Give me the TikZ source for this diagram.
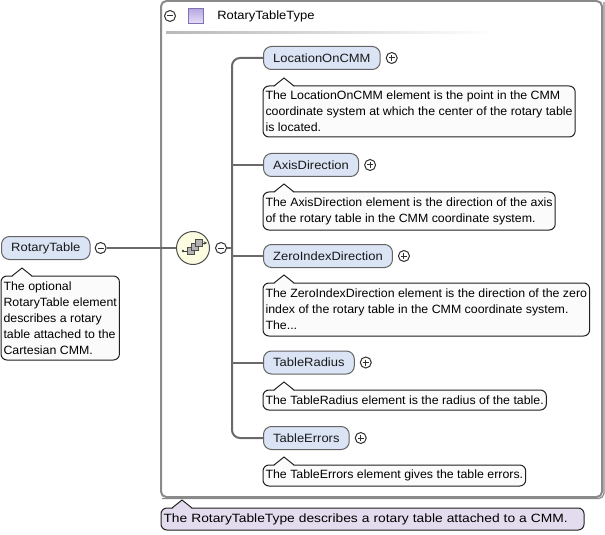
\documentclass[tikz,border=0pt]{standalone}
\usepackage{fontspec}
\setmainfont{Liberation Sans}
\newfontfamily\docfont[FakeStretch=1.03]{Liberation Sans}
\newfontfamily\elfont[FakeStretch=1.08]{Liberation Sans}
\newfontfamily\typedocfont[FakeStretch=1.15]{Liberation Sans}
\usetikzlibrary{calc,arrows.meta}
\definecolor{elfill}{HTML}{DAE4F5}
\definecolor{elborder}{HTML}{646464}
\definecolor{docfill}{HTML}{FBFBFB}
\definecolor{docborder}{HTML}{202020}
\definecolor{lavfill}{HTML}{E3DCEE}
\definecolor{conncol}{HTML}{6A6A6A}
\definecolor{contcol}{HTML}{8A8A8A}
\definecolor{seqfill}{HTML}{FDFDE2}
\definecolor{pmcol}{HTML}{303030}
\definecolor{purpA}{HTML}{B7A6E2}
\definecolor{purpB}{HTML}{E6DFF8}
\definecolor{purpD}{HTML}{8070B4}
\newcommand\docptr[2]{%
  \fill[#2] ($(#1.north west)+(11,1)$) -- ($(#1.north west)+(21,-8)$) -- ($(#1.north west)+(31,1)$) -- cycle;
  \draw[docborder, line width=0.75pt, line join=miter] ($(#1.north west)+(11,0)$) -- ($(#1.north west)+(21,-8)$) -- ($(#1.north west)+(31,0)$);}
\newcommand\plussign[1]{%
  \draw[pmcol, line width=0.75pt] ($(#1.center)+(-3,0)$) -- ($(#1.center)+(3,0)$);
  \draw[pmcol, line width=0.75pt] ($(#1.center)+(0,-3)$) -- ($(#1.center)+(0,3)$);}
\newcommand\minussign[1]{%
  \draw[pmcol, line width=0.75pt] ($(#1.center)+(-3,0)$) -- ($(#1.center)+(3,0)$);}
\begin{document}
\begin{tikzpicture}[x=0.75pt,y=-0.75pt,
  font=\fontsize{9}{12}\selectfont,
  elem/.style={draw=elborder, fill=elfill, rounded corners=6pt, line width=0.75pt,
    font=\fontsize{9}{12}\selectfont\elfont,
    inner xsep=7.3pt, inner ysep=0pt, minimum height=17.25pt, anchor=west, text=black!90},
  docbox/.style={draw=docborder, fill=docfill, rounded corners=4.5pt, line width=0.75pt,
    font=\fontsize{9}{12}\selectfont\docfont,
    align=left, inner xsep=1.9pt, inner ysep=0.5pt, outer sep=0pt, anchor=north west},
  conn/.style={draw=conncol, line width=1.5pt},
  pm/.style={circle, draw=pmcol, fill=white, minimum size=8.25pt, inner sep=0pt, line width=0.75pt}]
\useasboundingbox (0,0) rectangle (605,534);
\fill[white] (0,0) rectangle (605,534);

% container
\draw[contcol, line width=1.5pt, rounded corners=4pt] (161,1) rectangle (602,497);
\draw[contcol, line width=0.9pt, rounded corners=4pt] (604,2) -- (604,498.5) -- (162,498.5);

% header
\node[pm] (hm) at (170,16) {};
\minussign{hm}
\node[draw=purpD, top color=purpA, bottom color=purpB, minimum size=11.25pt, inner sep=0pt, line width=0.75pt] (hsq) at (195.5,16) {};
\node[anchor=west, inner sep=0pt, font=\fontsize{9}{12}\selectfont\elfont] (htitle) at (217,16) {RotaryTableType};
\shade[left color=gray!55, right color=white] (166,32) rectangle (495,34);

% root element
\node[elem] (rt) at (1,248) {RotaryTable};
\node[pm] (rtm) at ($(rt.east)+(10,0)$) {};
\minussign{rtm}
\node[docbox, minimum height=63pt] (d0) at (1,276) {The optional\\RotaryTable element\\describes a rotary\\table attached to the\\Cartesian CMM.};
\docptr{d0}{docfill}

% sequence compositor
\node[circle, draw=black!70, fill=seqfill, minimum size=24.75pt, inner sep=0pt, line width=0.75pt] (seq) at (193,248) {};
\fill[black!75] (183,251) circle (1.3);
\draw[black!75, line width=0.75pt] (183,251) -- (188,251);
\filldraw[fill=gray!60, draw=black!70, line width=0.6pt] (187,247) rectangle (194,254);
\filldraw[fill=gray!60, draw=black!70, line width=0.6pt] (191,243) rectangle (198,250);
\filldraw[fill=gray!60, draw=black!70, line width=0.6pt] (195,239) rectangle (202,246);
\draw[black!75, line width=0.75pt, -{Stealth[length=2.5pt,width=2.5pt]}] (202,243) -- (207,243);
\node[pm] (seqm) at (221,248) {};
\minussign{seqm}
\coordinate (busc) at (232,248);

\draw[conn] (rtm.east) -- (seq.west);

% children
\node[elem] (loc) at (263,58) {LocationOnCMM};
\node[pm] (locp) at ($(loc.east)+(11,0)$) {};
\plussign{locp}
\node[docbox, minimum height=38.25pt] (d1) at (263,86) {The LocationOnCMM element is the point in the CMM\\coordinate system at which the center of the rotary table\\is located.};
\docptr{d1}{docfill}

\node[elem] (axis) at (263,165) {AxisDirection};
\node[pm] (axisp) at ($(axis.east)+(11,0)$) {};
\plussign{axisp}
\node[docbox, minimum height=28.5pt] (d2) at (263,192) {The AxisDirection element is the direction of the axis\\of the rotary table in the CMM coordinate system.};
\docptr{d2}{docfill}

\node[elem] (zero) at (263,256) {ZeroIndexDirection};
\node[pm] (zerop) at ($(zero.east)+(11,0)$) {};
\plussign{zerop}
\node[docbox, minimum height=39.75pt] (d3) at (263,283) {The ZeroIndexDirection element is the direction of the zero\\index of the rotary table in the CMM coordinate system.\\The...};
\docptr{d3}{docfill}

\node[elem] (rad) at (263,362.5) {TableRadius};
\node[pm] (radp) at ($(rad.east)+(11,0)$) {};
\plussign{radp}
\node[docbox, minimum height=15pt] (d4) at (263,390) {The TableRadius element is the radius of the table.};
\docptr{d4}{docfill}

\node[elem] (err) at (263,438) {TableErrors};
\node[pm] (errp) at ($(err.east)+(11,0)$) {};
\plussign{errp}
\node[docbox, minimum height=15.75pt] (d5) at (263,465) {The TableErrors element gives the table errors.};
\docptr{d5}{docfill}

% bus connectors
\draw[conn, rounded corners=6pt] (loc.west) -| (busc) |- (err.west);
\draw[conn] (seqm.east) -- (busc);
\draw[conn] (axis.west) -- (axis.west -| busc);
\draw[conn] (zero.west) -- (zero.west -| busc);
\draw[conn] (rad.west) -- (rad.west -| busc);

% type documentation
\node[docbox, fill=lavfill, minimum height=16.5pt, text width=313.5pt, font=\fontsize{9}{12}\selectfont\typedocfont] (d6) at (161,508) {The RotaryTableType describes a rotary table attached to a CMM.};
\docptr{d6}{lavfill}
\end{tikzpicture}
\end{document}
